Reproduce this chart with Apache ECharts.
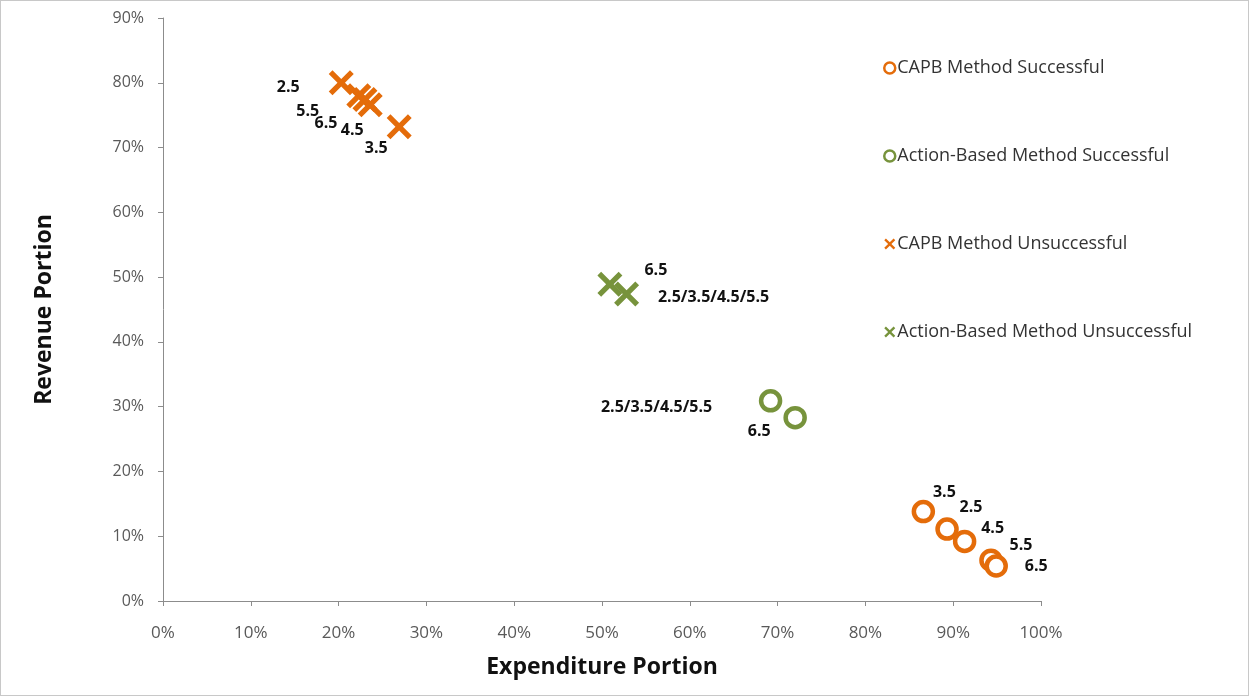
<!DOCTYPE html>
<html>
<head>
<meta charset="utf-8">
<script src="https://cdn.jsdelivr.net/npm/echarts@6/dist/echarts.min.js"></script>
<style>
html,body{margin:0;padding:0;background:#fff;}
#main{width:1249px;height:696px;box-sizing:border-box;border:1px solid #c8c8c8;}
</style>
</head>
<body>
<div id="main"></div>
<script>
// ---- data (percent units) ----
const xTicks = [0,10,20,30,40,50,60,70,80,90,100];
const yTicks = [0,10,20,30,40,50,60,70,80,90];

const capbSuccLabels = ['3.5','2.5','4.5','5.5','6.5'];
const capbSuccX = [86.6, 89.3, 91.3, 94.3, 94.9];
const capbSuccY = [13.8, 11.1, 9.2, 6.3, 5.4];

const actSuccLabels = ['2.5/3.5/4.5/5.5','6.5'];
const actSuccX = [69.2, 72.0];
const actSuccY = [30.9, 28.3];

const capbFailLabels = ['2.5','5.5','6.5','4.5','3.5'];
const capbFailX = [20.3, 22.3, 23.0, 23.6, 26.9];
const capbFailY = [80.0, 78.0, 77.4, 76.6, 73.2];

const actFailLabels = ['6.5','2.5/3.5/4.5/5.5'];
const actFailX = [50.9, 52.8];
const actFailY = [48.9, 47.4];

// ---- styling ----
const ORANGE = '#E46C0A';
const GREEN = '#77933C';
const FONT = 'Open Sans';
const XPATH = 'path://M0,1.5 L1.5,0 L5,3.5 L8.5,0 L10,1.5 L6.5,5 L10,8.5 L8.5,10 L5,6.5 L1.5,10 L0,8.5 L3.5,5 Z';

// label offsets (pixels from marker centre), per point, in the same order as the data
const capbSuccOff = [[21,-19],[24,-22],[28,-13],[30,-15],[40,0]];
const actSuccOff = [[-114,7],[-36,14]];
const capbFailOff = [[-53,5],[-51,16],[-39,24],[-18,26],[-23,22]];
const actFailOff = [[46,-14],[87,3]];

function build(xs, ys, labels, offs){
  return xs.map((x,i)=>({
    value:[x, ys[i]],
    name: labels[i],
    label:{offset: offs[i]}
  }));
}
const labelBase = {
  show:true, position:'inside', formatter: p => p.name,
  color:'#111', fontFamily:FONT, fontWeight:'bold', fontSize:16
};

const chart = echarts.init(document.getElementById('main'));
chart.setOption({
  animation:false,
  backgroundColor:'#fff',
  grid:{left:162, right:207, top:17, bottom:94, containLabel:false},
  xAxis:{
    type:'value', min:0, max:100, interval:10,
    name:'Expenditure Portion', nameLocation:'middle', nameGap:55,
    nameTextStyle:{fontFamily:FONT, fontWeight:'bold', fontSize:23, color:'#111'},
    axisLine:{show:true, lineStyle:{color:'#8c8c8c', width:1}},
    axisTick:{show:true, length:5, lineStyle:{color:'#8c8c8c'}},
    axisLabel:{formatter:'{value}%', color:'#595959', fontFamily:FONT, fontSize:17, margin:24},
    splitLine:{show:false}
  },
  yAxis:{
    type:'value', min:0, max:90, interval:10,
    name:'Revenue Portion', nameLocation:'middle', nameGap:107, nameRotate:90,
    nameTextStyle:{fontFamily:FONT, fontWeight:'bold', fontSize:23, color:'#111'},
    axisLine:{show:true, lineStyle:{color:'#8c8c8c', width:1}},
    axisTick:{show:true, length:5, lineStyle:{color:'#8c8c8c'}},
    axisLabel:{formatter:'{value}%', color:'#595959', fontFamily:FONT, fontSize:16, margin:19},
    splitLine:{show:false}
  },
  legend:{
    orient:'vertical', left:877, top:53, itemGap:70,
    itemWidth:11, itemHeight:11,
    textStyle:{fontFamily:FONT, fontSize:18, color:'#333', padding:[0,0,0,-3]},
    data:[
      {name:'CAPB Method Successful', icon:'circle', itemStyle:{color:'#fff', borderColor:ORANGE, borderWidth:2.5}},
      {name:'Action-Based Method Successful', icon:'circle', itemStyle:{color:'#fff', borderColor:GREEN, borderWidth:2.5}},
      {name:'CAPB Method Unsuccessful', icon:XPATH, itemStyle:{color:ORANGE, borderWidth:0}},
      {name:'Action-Based Method Unsuccessful', icon:XPATH, itemStyle:{color:GREEN, borderWidth:0}}
    ]
  },
  series:[
    {name:'CAPB Method Successful', type:'scatter', symbol:'circle', symbolSize:19,
     itemStyle:{color:'#fff', borderColor:ORANGE, borderWidth:4.5, opacity:1},
     label:labelBase, data:build(capbSuccX, capbSuccY, capbSuccLabels, capbSuccOff)},
    {name:'Action-Based Method Successful', type:'scatter', symbol:'circle', symbolSize:19,
     itemStyle:{color:'#fff', borderColor:GREEN, borderWidth:4.5, opacity:1},
     label:labelBase, data:build(actSuccX, actSuccY, actSuccLabels, actSuccOff)},
    {name:'CAPB Method Unsuccessful', type:'scatter', symbol:XPATH, symbolSize:25,
     itemStyle:{color:ORANGE, opacity:1},
     label:labelBase, data:build(capbFailX, capbFailY, capbFailLabels, capbFailOff)},
    {name:'Action-Based Method Unsuccessful', type:'scatter', symbol:XPATH, symbolSize:25,
     itemStyle:{color:GREEN, opacity:1},
     label:labelBase, data:build(actFailX, actFailY, actFailLabels, actFailOff)}
  ]
});
</script>
</body>
</html>
